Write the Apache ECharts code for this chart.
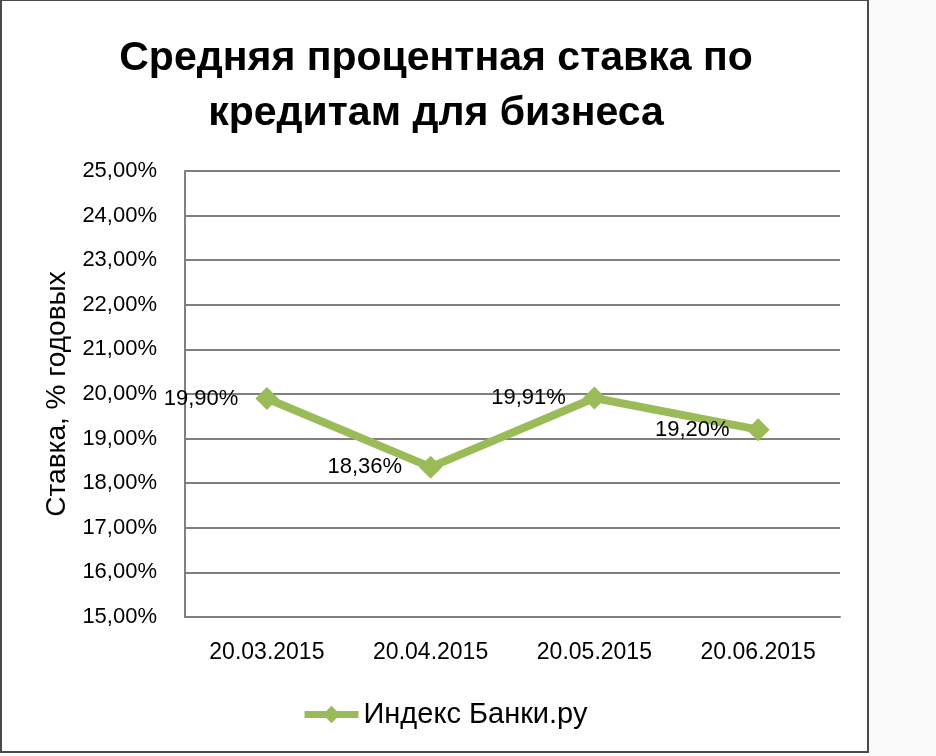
<!DOCTYPE html>
<html><head><meta charset="utf-8">
<style>html,body{margin:0;padding:0;background:#fafafa;}#c{width:936px;height:756px;}</style>
<script src="https://cdn.jsdelivr.net/npm/echarts@6/dist/echarts.min.js"></script>
</head><body><div id="c"></div>
<script>
const titleLines = ['Средняя процентная ставка по', 'кредитам для бизнеса'];
const categories = ['20.03.2015', '20.04.2015', '20.05.2015', '20.06.2015'];
const seriesName = 'Индекс Банки.ру';
const values = [19.90, 18.36, 19.91, 19.20];
const yAxisTitle = 'Ставка, % годовых';
const yMin = 15, yMax = 25, yStep = 1;

const fmt = v => v.toFixed(2).replace('.', ',') + '%';
const chart = echarts.init(document.getElementById('c'), null, {renderer: 'canvas'});
const green = '#9BBB59';
chart.setOption({
  backgroundColor: 'transparent',
  animation: false,
  graphic: [{
    type: 'rect', z: -10, shape: {x: 1, y: 0, width: 867, height: 752},
    style: {fill: '#ffffff', stroke: '#4a4a4a', lineWidth: 2}
  }],
  title: {
    text: titleLines.join('\n'), left: 431, top: 26, textAlign: 'center',
    textStyle: {fontFamily: 'Liberation Sans', fontWeight: 'bold', fontSize: 41, lineHeight: 55, color: '#000'}
  },
  grid: {left: 185, right: 96, top: 171, bottom: 139},
  legend: {
    data: [seriesName], left: 296, top: 695, itemWidth: 54, itemHeight: 22, itemGap: 4,
    lineStyle: {width: 7},
    textStyle: {fontFamily: 'Liberation Sans', fontSize: 29, color: '#000'}
  },
  xAxis: {
    type: 'category', data: categories, boundaryGap: true,
    axisLine: {show: true, lineStyle: {color: '#808080', width: 2}},
    axisTick: {show: false},
    axisLabel: {margin: 24, fontFamily: 'Liberation Sans', fontSize: 23, color: '#000'}
  },
  yAxis: {
    type: 'value', min: yMin, max: yMax, interval: yStep,
    name: yAxisTitle, nameLocation: 'middle', nameGap: 114, nameRotate: 90,
    nameTextStyle: {fontFamily: 'Liberation Sans', fontSize: 28, color: '#000'},
    axisLine: {show: true, lineStyle: {color: '#808080', width: 2}},
    axisTick: {show: false},
    splitLine: {lineStyle: {color: '#808080', width: 2}},
    axisLabel: {margin: 28, fontFamily: 'Liberation Sans', fontSize: 22, color: '#000', formatter: fmt}
  },
  series: [{
    name: seriesName, type: 'line', data: values,
    symbol: 'diamond', symbolSize: 23,
    lineStyle: {color: green, width: 8},
    itemStyle: {color: green},
    label: {show: true, position: 'left', distance: 17, formatter: p => fmt(p.value),
      fontFamily: 'Liberation Sans', fontSize: 22, color: '#000'}
  }]
});
</script></body></html>
